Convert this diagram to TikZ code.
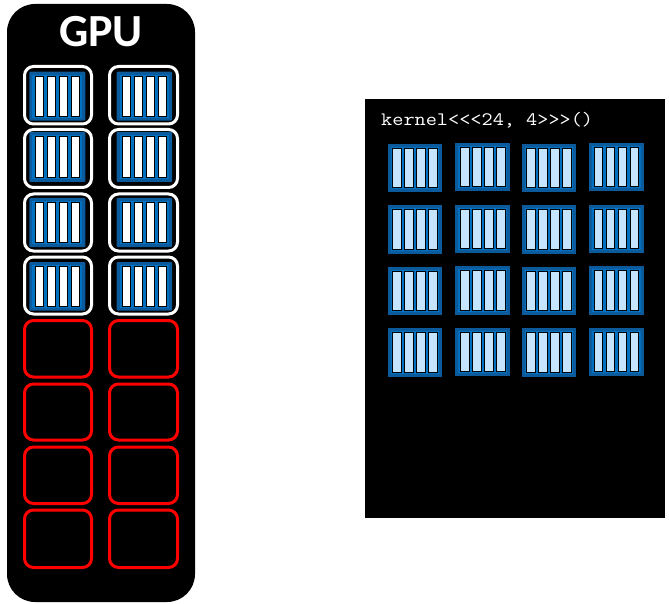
\documentclass[tikz,border=0pt]{standalone}
\usepackage{fontspec}
\newfontfamily\slidefont{Carlito}
\newfontfamily\codefont{Latin Modern Mono}[FakeStretch=1.14]
\definecolor{tileedge}{HTML}{0A5A9C}
\definecolor{tilecore}{HTML}{0070C0}
\definecolor{barlight}{HTML}{C5E5FF}
\tikzset{
  slotok/.style={draw=white,line width=3pt,rounded corners=9pt},
  slotbad/.style={draw=red,line width=3pt,rounded corners=9pt},
  barbox/.style={draw=black,line width=1.2pt}
}

\begin{document}
\begin{tikzpicture}[x=1pt,y=-1pt]
  \useasboundingbox (0,0) rectangle (669,604);
  % gpu panel
  \fill[black,rounded corners=28pt] (7,4) rectangle (195,602);
  \node[font=\slidefont\bfseries\fontsize{46}{46}\selectfont,text=white] (gputitle) at (101,31.5) {GPU};
  % used slots
  \foreach \slottop/\slotbot/\ytop/\ybot in {
    66.5/124/71.7/120.7,
    129.5/187.5/132/182,
    194/251/198/247,
    257/314/262/310.7}
  {
    \foreach \slotl/\slotr/\xl/\xr/\bx in {
      24.5/91.5/29.3/85.3/35,
      109.5/177.5/116.7/172/122}
    {
      \draw[slotok] (\slotl,\slottop) rectangle (\slotr,\slotbot);
      \fill[tileedge,rounded corners=1pt] (\xl,\ytop) rectangle (\xr,\ybot);
      \fill[tilecore] (\xl+3,\ytop+3) rectangle (\xr-3,\ybot-3);
      \foreach \k in {0,...,3}
        \draw[barbox,fill=white] (\bx+\k*12+0.5,\ytop+4.5) rectangle (\bx+\k*12+8.5,\ybot-4.5);
    }
  }
  % empty slots
  \foreach \slottop/\slotbot in {320.5/377,384/440,447/503.5,510/567.5}
  {
    \draw[slotbad] (24.5,\slottop) rectangle (91.5,\slotbot);
    \draw[slotbad] (109.5,\slottop) rectangle (177.5,\slotbot);
  }
  % kernel panel
  \fill[black] (365,99) rectangle (665,518);
  \node[font=\codefont\fontsize{19}{19}\selectfont,text=white,anchor=base west,inner sep=0pt] (kernelcall) at (381,125.5) {kernel<{}<{}<24, 4>{}>{}>()};
  % tiles
  \foreach \ya/\yb/\yc/\yd in {
    144/192/143/191,
    205/254/205/253,
    267/315/266/315,
    328/377/328/376}
  {
    \foreach \xl/\xr/\bx/\bw/\ytop/\ybot in {
      388/442/392/10/\ya/\yb,
      455/510/460/9.6/\yc/\yd,
      522/576/526/9.7/\ya/\yb,
      589/644/594/9/\yc/\yd}
    {
      \fill[tileedge] (\xl,\ytop) rectangle (\xr,\ybot);
      \fill[tilecore] (\xl+3,\ytop+3) rectangle (\xr-3,\ybot-3);
      \foreach \k in {0,...,3}
        \draw[barbox,fill=barlight] (\bx+\k*12+0.5,\ytop+4.5) rectangle (\bx+\k*12+\bw-0.5,\ybot-4.5);
    }
  }
\end{tikzpicture}
\end{document}
